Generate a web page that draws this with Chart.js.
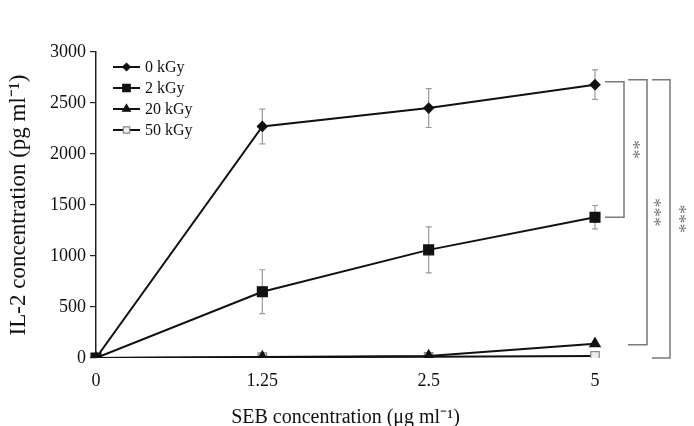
<!DOCTYPE html>
<html>
<head>
<meta charset="utf-8">
<script src="https://cdn.jsdelivr.net/npm/chart.js@4/dist/chart.umd.min.js"></script>
<style>
  html, body { margin: 0; padding: 0; background: #fff; }
  #wrap { width: 694px; height: 426px; }
</style>
</head>
<body>
<div id="wrap"><canvas id="chart" width="694" height="426"></canvas></div>
<script>
// SEB doses (evenly spaced categories, as in the figure)
const doses = ['0', '1.25', '2.5', '5'];

// IL-2 means (pg/ml) per irradiation dose
const il2_0kGy  = [0, 2270, 2450, 2680];
const il2_2kGy  = [0, 650, 1060, 1380];
const il2_20kGy = [0, 10, 20, 140];
const il2_50kGy = [0, 8, 12, 20];

// half-height of error bars
const sd_0kGy  = [0, 170, 190, 145];
const sd_2kGy  = [0, 215, 225, 115];
const sd_20kGy = [0, 0, 0, 0];
const sd_50kGy = [0, 0, 0, 0];

const seriesNames = ['0 kGy', '2 kGy', '20 kGy', '50 kGy'];
const yTicks = [0, 500, 1000, 1500, 2000, 2500, 3000];

const FONT = 'Liberation Serif';

// draws error bars under the markers
const errorBars = {
    id: 'errorBars',
    beforeDatasetsDraw(chart) {
        const ctx = chart.ctx;
        const y = chart.scales.y;
        ctx.save();
        ctx.strokeStyle = '#9a9a9a';
        ctx.lineWidth = 1.2;
        chart.data.datasets.forEach((ds, i) => {
            const meta = chart.getDatasetMeta(i);
            meta.data.forEach((pt, j) => {
                const sd = ds.sd[j];
                if (!sd) return;
                const top = y.getPixelForValue(ds.data[j] + sd);
                const bot = y.getPixelForValue(ds.data[j] - sd);
                ctx.beginPath();
                ctx.moveTo(pt.x, top); ctx.lineTo(pt.x, bot);
                ctx.moveTo(pt.x - 3, top); ctx.lineTo(pt.x + 3, top);
                ctx.moveTo(pt.x - 3, bot); ctx.lineTo(pt.x + 3, bot);
                ctx.stroke();
            });
        });
        ctx.restore();
    }
};

// significance brackets on the right + legend inside the plot
const extras = {
    id: 'extras',
    afterDraw(chart) {
        const ctx = chart.ctx;
        const y = chart.scales.y;
        const xEnd = chart.scales.x.getPixelForValue(doses.length - 1);
        const last = i => chart.data.datasets[i].data[doses.length - 1];

        const brackets = [
            { a: 0, b: 1, x0: 10, x1: 29, topAdj: -3, botAdj: 0, label: '**', lx: 37 },
            { a: 0, b: 2, x0: 33, x1: 52, topAdj: -5, botAdj: 1, label: '***', lx: 58 },
            { a: 0, b: 3, x0: 57, x1: 75, topAdj: -5, botAdj: 2, label: '***', lx: 83 }
        ];
        ctx.save();
        ctx.strokeStyle = '#7a7a7a';
        ctx.lineWidth = 1.5;
        brackets.forEach(br => {
            const yt = y.getPixelForValue(last(br.a)) + br.topAdj;
            const yb = y.getPixelForValue(last(br.b)) + br.botAdj;
            ctx.beginPath();
            ctx.moveTo(xEnd + br.x0, yt);
            ctx.lineTo(xEnd + br.x1, yt);
            ctx.lineTo(xEnd + br.x1, yb);
            ctx.lineTo(xEnd + br.x0, yb);
            ctx.stroke();

            ctx.save();
            ctx.translate(xEnd + br.lx, (yt + yb) / 2);
            ctx.rotate(Math.PI / 2);
            ctx.fillStyle = '#777';
            ctx.font = '19px ' + FONT;
            ctx.textAlign = 'center';
            ctx.textBaseline = 'middle';
            ctx.fillText(br.label, 0, 0);
            ctx.restore();
        });

        // legend
        const lx = chart.chartArea.left + 17;
        const ly = chart.chartArea.top + 15;
        chart.data.datasets.forEach((ds, i) => {
            const yy = ly + i * 21;
            ctx.strokeStyle = '#111';
            ctx.lineWidth = 2;
            ctx.beginPath();
            ctx.moveTo(lx, yy); ctx.lineTo(lx + 27, yy);
            ctx.stroke();
            ctx.fillStyle = ds.pointBackgroundColor;
            ctx.strokeStyle = ds.pointBorderColor;
            ctx.lineWidth = ds.pointBorderWidth;
            Chart.helpers.drawPoint(ctx, {
                pointStyle: ds.pointStyle,
                radius: ds.pointRadius * 0.75,
                borderWidth: ds.pointBorderWidth
            }, lx + 13.5, yy);
            ctx.fillStyle = '#111';
            ctx.font = '16px ' + FONT;
            ctx.textAlign = 'left';
            ctx.textBaseline = 'middle';
            ctx.fillText(ds.label, lx + 32, yy + 1);
        });
        ctx.restore();
    }
};

function series(label, data, sd, style, radius, fill, border) {
    return {
        label, data, sd,
        borderColor: '#111',
        borderWidth: 2,
        tension: 0,
        pointStyle: style,
        pointRadius: radius,
        pointHoverRadius: radius,
        pointBackgroundColor: fill,
        pointBorderColor: border,
        pointBorderWidth: 1.2
    };
}

const chart = new Chart(document.getElementById('chart'), {
    type: 'line',
    data: {
        labels: doses,
        datasets: [
            series(seriesNames[0], il2_0kGy, sd_0kGy, 'rectRot', 5, '#111', '#111'),
            series(seriesNames[1], il2_2kGy, sd_2kGy, 'rect', 7, '#111', '#111'),
            series(seriesNames[2], il2_20kGy, sd_20kGy, 'triangle', 6, '#111', '#111'),
            series(seriesNames[3], il2_50kGy, sd_50kGy, 'rect', 6, '#eee', '#888')
        ]
    },
    options: {
        responsive: false,
        animation: false,
        layout: { padding: { left: 0, top: 52, right: 99, bottom: 0 } },
        plugins: {
            legend: { display: false },
            tooltip: { enabled: false }
        },
        scales: {
            x: {
                type: 'category',
                offset: false,
                grid: { display: false },
                border: { display: false },
                ticks: { color: '#111', font: { family: FONT, size: 18 }, padding: 4, maxRotation: 0 },
                title: {
                    display: true,
                    text: 'SEB concentration (μg ml⁻¹)',
                    color: '#111',
                    font: { family: FONT, size: 20 },
                    padding: { top: 10, bottom: -4 }
                },
                afterFit: s => { s.height = 68; }
            },
            y: {
                min: 0,
                max: 3000,
                afterBuildTicks: s => { s.ticks = yTicks.map(v => ({ value: v })); },
                grid: { drawOnChartArea: false, tickLength: 6, color: '#222', lineWidth: 1.2 },
                border: { display: true, color: '#222', width: 1.5 },
                ticks: {
                    color: '#111',
                    font: { family: FONT, size: 18 },
                    padding: 4,
                    callback: v => String(v)
                },
                title: {
                    display: true,
                    text: 'IL-2 concentration (pg ml⁻¹)',
                    color: '#111',
                    font: { family: FONT, size: 23 },
                    padding: { top: 5, bottom: 0 }
                },
                afterFit: s => { s.width = 96; }
            }
        }
    },
    plugins: [errorBars, extras]
});
</script>
</body>
</html>
